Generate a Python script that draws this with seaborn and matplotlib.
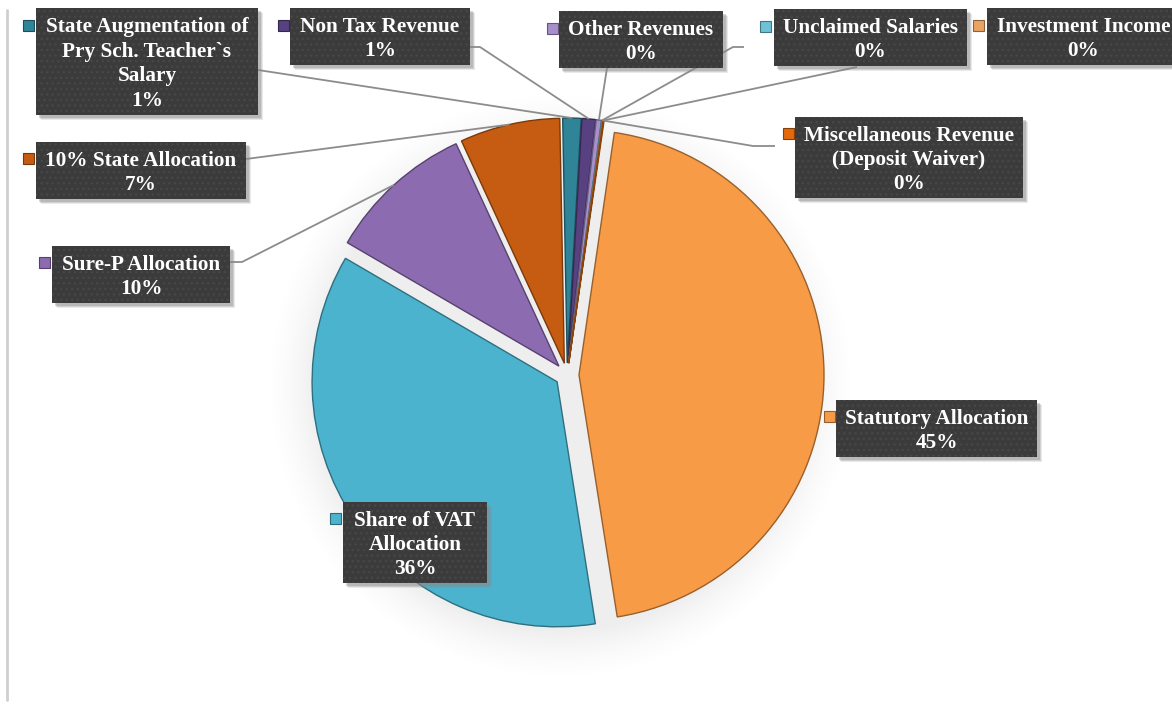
import numpy as np
import matplotlib
matplotlib.use("Agg")
import matplotlib.pyplot as plt
from matplotlib.patches import Rectangle
import seaborn as sns

# Revenue sources and their shares (%)
categories = [
    "Statutory Allocation",
    "Share of VAT\nAllocation",
    "Sure-P Allocation",
    "10% State Allocation",
    "State Augmentation of\nPry Sch. Teacher`s\nSalary",
    "Non Tax Revenue",
    "Other Revenues",
    "Unclaimed Salaries",
    "Investment Income",
    "Miscellaneous Revenue\n(Deposit Waiver)",
]
shares = [45.2, 35.9, 9.7, 6.6, 1.2, 0.9, 0.35, 0.05, 0.05, 0.05]
colors = ["#F79B47", "#4BB3CD", "#8C6BB1", "#C65C12", "#2F8497",
          "#574180", "#A68FCB", "#6FC1D8", "#E9A463", "#E2690C"]

W, H = 1172, 708
sns.set_style("white")
plt.rcParams["font.family"] = ["Liberation Serif", "DejaVu Serif"]

fig = plt.figure(figsize=(W / 100, H / 100), dpi=100)
ax = fig.add_axes([0, 0, 1, 1])


def P(x, y):
    """Convert top-left pixel coordinates to data coordinates."""
    return x, H - y


def darker(c, f=0.6):
    return tuple(np.array(matplotlib.colors.to_rgb(c)) * f)


cx, cy = P(567, 375)
R = 245
GAP = 12

# soft shadow under the pie
yy, xx = np.mgrid[0:H, 0:W]
d = np.hypot(xx - 560, (H - yy) - (cy - 10))
shade = np.clip((R + 50 - d) / 50.0, 0, 1) ** 1.6 * 0.13
rgba = np.zeros((H, W, 4))
rgba[..., :3] = 0.5
rgba[..., 3] = shade
ax.imshow(rgba, extent=(0, W, 0, H), origin="upper", zorder=0)

wedges, _ = ax.pie(
    shares, colors=colors, startangle=81.7, counterclock=False,
    explode=[GAP] * len(shares), center=(cx, cy), radius=R,
    wedgeprops=dict(linewidth=1.0),
)
for w, c in zip(wedges, colors):
    w.set_edgecolor(darker(c, 0.62))
    w.set_zorder(2)

# label boxes (x0, y0, x1, y1), legend key position, leader path
boxes = [
    (836, 400, 1037, 457),
    (343, 502, 487, 583),
    (52, 246, 230, 303),
    (36, 142, 246, 199),
    (36, 8, 258, 115),
    (290, 8, 470, 65),
    (559, 11, 723, 68),
    (774, 9, 967, 66),
    (987, 8, 1180, 65),
    (795, 117, 1023, 198),
]
keys = [(829, 416), (335, 518), (44, 262), (28, 158), (28, 25),
        (283, 25), (552, 28), (765, 26), (978, 25), (788, 133)]
leaders = [
    None,
    None,
    [(230, 262), (242, 262)],
    [(246, 159)],
    [(258, 70)],
    [(470, 47), (480, 47)],
    [(607, 68)],
    [(744, 47), (733, 47)],
    [(857, 67)],
    [(775, 146), (753, 146)],
]

for i, w in enumerate(wedges):
    path = leaders[i]
    if path is None:
        continue
    mid = np.deg2rad((w.theta1 + w.theta2) / 2)
    ex = w.center[0] + w.r * np.cos(mid)
    ey = w.center[1] + w.r * np.sin(mid)
    xs = [P(*p)[0] for p in path] + [ex]
    ys = [P(*p)[1] for p in path] + [ey]
    ax.plot(xs, ys, color="#8c8c8c", lw=1.3, zorder=3, solid_capstyle="butt")

for i, (name, val) in enumerate(zip(categories, shares)):
    x0, y0, x1, y1 = boxes[i]
    bx, by = P(x0, y1)
    bw, bh = x1 - x0, y1 - y0
    for k, a in ((5, 0.18), (4, 0.25), (3, 0.35)):
        ax.add_patch(Rectangle((bx + k, by - k), bw, bh, fc="#8a8a8a", ec="none",
                               alpha=a, zorder=4))
    ax.add_patch(Rectangle((bx, by), bw, bh, fc="#3b3b3b", ec="none", zorder=5))
    ax.add_patch(Rectangle((bx, by), bw, bh, fill=False, hatch="...",
                           edgecolor="#474747", lw=0, zorder=5))
    tx, ty = P((x0 + x1) / 2, (y0 + y1) / 2)
    ax.text(tx, ty - 2.5, f"{name}\n{round(val):.0f}%", ha="center", va="center",
            multialignment="center", color="white", fontsize=15.3,
            fontweight="bold", linespacing=1.29, zorder=6)
    kx, ky = P(*keys[i])
    ax.add_patch(Rectangle((kx - 5.5, ky - 5.5), 11, 11, fc=colors[i],
                           ec=darker(colors[i]), lw=0.8, zorder=6))

# chart area border on the left
ax.plot([7, 7], [H - 10, 8], color="#cfcfcf", lw=2, zorder=1)

ax.set_xlim(0, W)
ax.set_ylim(0, H)
ax.set_aspect("equal")
ax.axis("off")
fig.savefig("out.png", dpi=100, facecolor="white")
